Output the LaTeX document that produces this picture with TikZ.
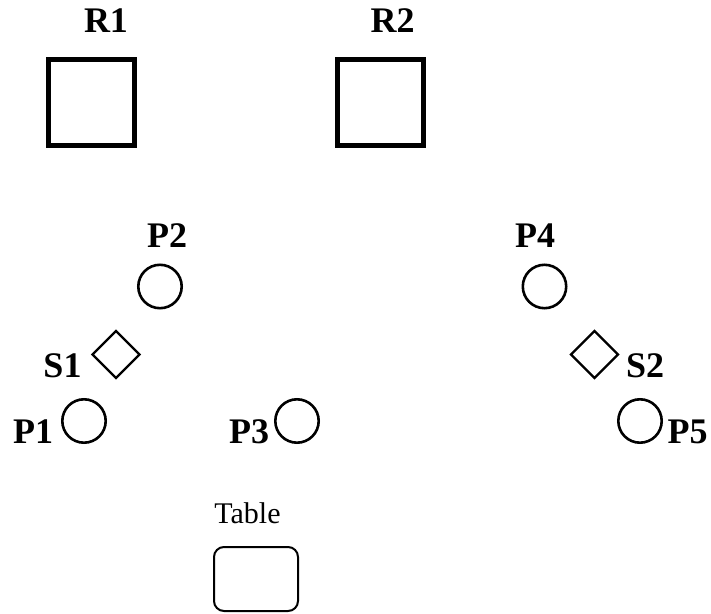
\documentclass[tikz,border=0pt]{standalone}
\usepackage{fontspec}
\setmainfont{Liberation Serif}
\usetikzlibrary{shapes.geometric}

\tikzset{
	roombox/.style={draw, line width=5pt, minimum size=86pt, inner sep=0pt},
	placedot/.style={draw, circle, line width=2.6pt, minimum size=43.4pt, inner sep=0pt},
	switchbox/.style={draw, diamond, line width=2.4pt, minimum size=48pt, inner sep=0pt},
	tablebox/.style={draw, rounded corners=10pt, line width=2pt, minimum width=84pt, minimum height=64pt, inner sep=0pt},
	tag/.style={anchor=base, inner sep=0pt, font=\fontsize{36}{40}\selectfont\bfseries},
	plaintag/.style={anchor=base, inner sep=0pt, font=\fontsize{30}{34}\selectfont}
}

\begin{document}
\begin{tikzpicture}[x=1pt,y=1pt]
	\useasboundingbox (0, 0) rectangle (711, 613);
	% Rooms
	\node[roombox] (R1) at (91.5, 510) {};
	\node[roombox] (R2) at (380, 510) {};
	\node[tag] (lblR1) at (106, 580) {R1};
	\node[tag] (lblR2) at (392.5, 580) {R2};

	% Places
	\node[placedot] (P2) at (160, 326.5) {};
	\node[placedot] (P4) at (544.5, 326.5) {};
	\node[placedot] (P1) at (84, 192) {};
	\node[placedot] (P3) at (297, 192) {};
	\node[placedot] (P5) at (640, 192) {};
	\node[tag] (lblP2) at (167, 365) {P2};
	\node[tag] (lblP4) at (535, 365) {P4};
	\node[tag] (lblP1) at (33, 170) {P1};
	\node[tag] (lblP3) at (249, 170) {P3};
	\node[tag] (lblP5) at (687.5, 170) {P5};

	% Switches
	\node[switchbox] (S1) at (116, 258.5) {};
	\node[switchbox] (S2) at (594.5, 258.5) {};
	\node[tag] (lblS1) at (62.5, 235) {S1};
	\node[tag] (lblS2) at (645, 235) {S2};

	% Table
	\node[tablebox] (T) at (256, 34) {};
	\node[plaintag] (lblT) at (247.5, 90) {Table};
\end{tikzpicture}
\end{document}
